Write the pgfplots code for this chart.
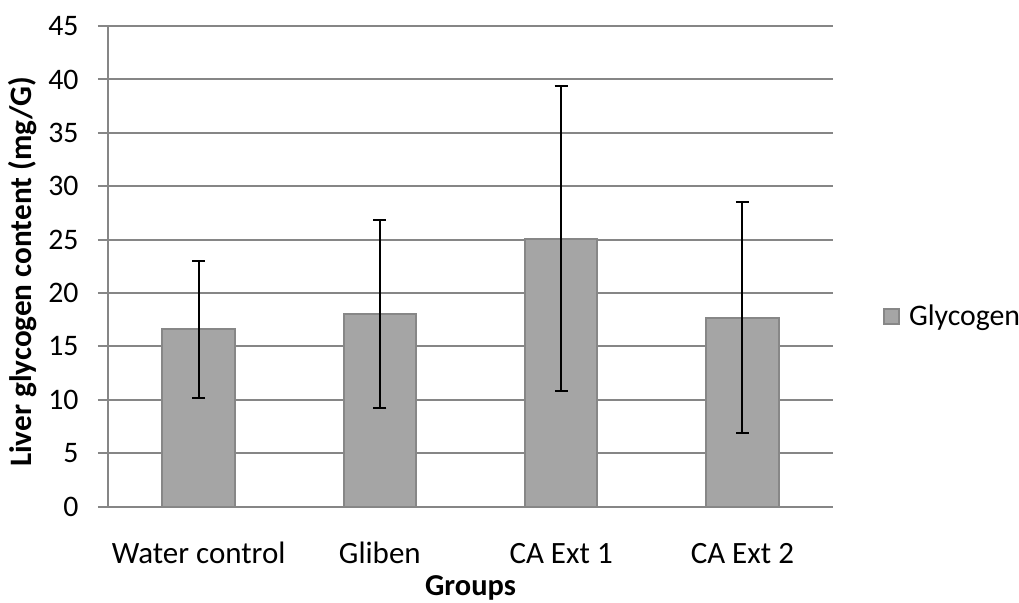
\documentclass[border=0pt]{standalone}
\usepackage{pgfplots}
\pgfplotsset{compat=1.18}
\usepackage{pgfplotstable}
\usepackage{fontspec}
\setmainfont{Carlito}

\definecolor{bargray}{HTML}{A5A5A5}
\definecolor{baredge}{HTML}{878787}
\definecolor{gridgray}{HTML}{868686}

\pgfplotstableread{
x  y     err
0  16.6  6.4
1  18.0  8.8
2  25.1  14.3
3  17.7  10.8
}\glycogen

\begin{document}
\begin{tikzpicture}
\path[use as bounding box] (-54pt,-48.15pt) rectangle (455.5pt,253.35pt);
\begin{axis}[
    at={(0,0)}, anchor=south west,
    scale only axis,
    width=362.5pt, height=240.3pt,
    ybar, bar width=0.4,
    xmin=-0.5, xmax=3.5,
    ymin=0, ymax=45,
    ytick distance=5,
    xtick=data,
    xticklabels={Water control, Gliben, CA Ext 1, CA Ext 2},
    x tick style={draw=none},
    y tick style={gridgray, line width=1pt},
    tick align=outside,
    major tick length=5pt,
    axis lines*=left,
    axis line style={gridgray, line width=1pt},
    ymajorgrids,
    grid style={gridgray, line width=1pt},
    font=\fontsize{14.9}{17.8}\selectfont,
    /pgf/number format/assume math mode=true,
    yticklabel style={anchor=east, inner sep=0pt, xshift=-9.5pt},
    xticklabel style={anchor=base, inner sep=0pt, yshift=-23.65pt, font=\fontsize{15.5}{18.6}\selectfont},
    every axis x label/.style={at={(axis description cs:0.5,0)}, yshift=-44.6pt, anchor=base, font=\fontsize{15.2}{18.2}\selectfont\bfseries},
    every axis y label/.style={at={(axis description cs:0,0.4886)}, xshift=-38pt, rotate=90, anchor=base, font=\fontsize{15.6}{18.7}\selectfont\bfseries},
    xlabel={Groups},
    ylabel={Liver glycogen content (mg/G)},
    legend style={draw=none, fill=none, inner sep=0pt, outer sep=0pt,
        at={(axis description cs:1.069,0.395)}, anchor=west,
        column sep=4.5pt, nodes={inner sep=0pt},
        font=\fontsize{14.9}{17.8}\selectfont},
    legend image code/.code={\draw[#1, draw=baredge, fill=bargray, line width=1pt] (0pt,-3.75pt) rectangle (7.5pt,3.75pt);},
]
\addplot[fill=bargray, draw=baredge, line width=1pt,
    error bars/.cd, y dir=both, y explicit,
    error bar style={black, line width=1pt},
    error mark options={rotate=90, mark size=3.3pt, black, line width=1pt}]
    table[x=x, y=y, y error=err] {\glycogen};
\legend{Glycogen}
\end{axis}
\end{tikzpicture}
\end{document}
